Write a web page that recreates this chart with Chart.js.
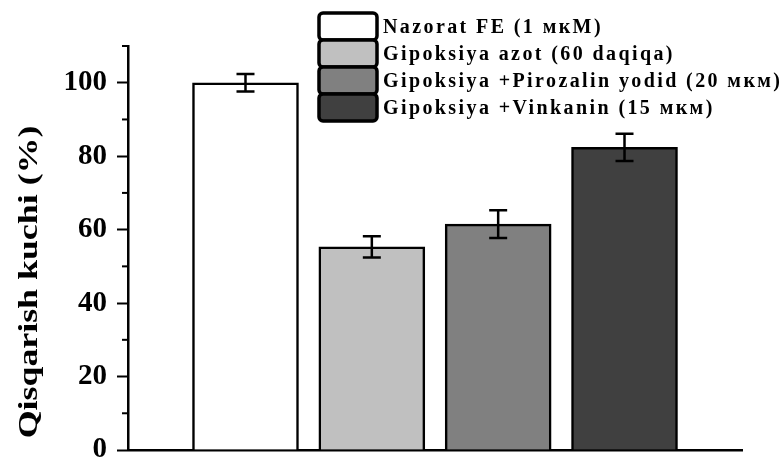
<!DOCTYPE html>
<html>
<head>
<meta charset="utf-8">
<script src="https://cdn.jsdelivr.net/npm/chart.js@4"></script>
<style>
html,body{margin:0;padding:0;background:#fff;}
canvas{display:block;}
</style>
</head>
<body>
<canvas id="c" width="781" height="460"></canvas>
<script>
const categories = ['Nazorat FE (1 мкМ)', 'Gipoksiya azot (60 daqiqa)', 'Gipoksiya +Pirozalin yodid (20 мкм)', 'Gipoksiya +Vinkanin (15 мкм)'];
const values = [100, 55.3, 61.5, 82.4];
const errors = [2.4, 2.9, 3.8, 3.7];
const yTicks = [0, 20, 40, 60, 80, 100];
const yMinorTicks = [10, 30, 50, 70, 90, 110];
const yTitle = 'Qisqarish kuchi (%)';
const colors = ['#ffffff', '#c0c0c0', '#808080', '#404040'];

const FONT = '"Liberation Serif", "DejaVu Serif", serif';

const extrasPlugin = {
  id: 'extras',
  afterDatasetsDraw(chart) {
    const ctx = chart.ctx;
    const xs = chart.scales.x, ys = chart.scales.y;
    ctx.save();
    // error bars
    ctx.strokeStyle = '#000';
    ctx.lineWidth = 2.5;
    values.forEach((v, i) => {
      const px = xs.getPixelForValue(i + 1);
      const top = ys.getPixelForValue(v + errors[i]);
      const bot = ys.getPixelForValue(v - errors[i]);
      ctx.beginPath();
      ctx.moveTo(px, top); ctx.lineTo(px, bot);
      ctx.moveTo(px - 9, top); ctx.lineTo(px + 9, top);
      ctx.moveTo(px - 9, bot); ctx.lineTo(px + 9, bot);
      ctx.stroke();
    });
    // minor ticks
    ctx.lineWidth = 2;
    const ax = chart.chartArea.left;
    yMinorTicks.forEach(t => {
      const py = ys.getPixelForValue(t);
      ctx.beginPath();
      ctx.moveTo(ax - 6, py); ctx.lineTo(ax, py);
      ctx.stroke();
    });
    // y title
    ctx.fillStyle = '#000';
    ctx.font = 'bold 28px ' + FONT;
    ctx.textAlign = 'center';
    ctx.textBaseline = 'middle';
    ctx.translate(30, 282);
    ctx.rotate(-Math.PI / 2);
    ctx.scale(1.28, 1);
    ctx.fillText(yTitle, 0, 0);
    ctx.restore();

    // legend
    ctx.save();
    const lx = 319, ly = 13, bw = 58, bh = 27;
    categories.forEach((c, i) => {
      const y = ly + i * bh;
      ctx.fillStyle = colors[i];
      ctx.strokeStyle = '#000';
      ctx.lineWidth = 3.5;
      ctx.beginPath();
      if (ctx.roundRect) ctx.roundRect(lx, y, bw, bh, 4); else ctx.rect(lx, y, bw, bh);
      ctx.fill();
      ctx.stroke();
    });
    ctx.fillStyle = '#000';
    ctx.font = 'bold 20px ' + FONT;
    ctx.textAlign = 'left';
    ctx.textBaseline = 'middle';
    try { ctx.letterSpacing = '2.4px'; } catch (e) {}
    categories.forEach((c, i) => {
      const y = ly + i * bh + bh / 2 + 1;
      ctx.fillText(c, lx + 64, y);
    });
    ctx.restore();
  }
};

new Chart(document.getElementById('c'), {
  type: 'bar',
  data: {
    datasets: [{
      data: categories.map((c, i) => ({ x: i + 1, y: values[i] })),
      backgroundColor: colors,
      borderColor: '#000',
      borderWidth: 2.5,
      barThickness: 106
    }]
  },
  options: {
    responsive: false,
    devicePixelRatio: 1,
    animation: false,
    layout: { padding: { top: 46, right: 39, bottom: 10, left: 0 } },
    plugins: { legend: { display: false }, tooltip: { enabled: false } },
    scales: {
      x: {
        type: 'linear',
        offset: false,
        min: 0.07,
        max: 4.93,
        grid: { display: false, offset: false },
        ticks: { display: false },
        border: { display: true, color: '#000', width: 2.5 },
        afterFit(s) { s.height = 0; s.paddingLeft = 0; s.paddingRight = 0; }
      },
      y: {
        min: 0,
        max: 110,
        afterBuildTicks(s) { s.ticks = yTicks.map(v => ({ value: v })); },
        afterFit(s) { s.width = 128; s.paddingTop = 0; s.paddingBottom = 0; },
        grid: { drawOnChartArea: false, drawTicks: true, tickLength: 11, tickColor: '#000', tickWidth: 2 },
        border: { display: true, color: '#000', width: 2.5 },
        ticks: {
          padding: 10,
          color: '#000',
          font: { family: FONT, size: 29, weight: 'bold' }
        }
      }
    }
  },
  plugins: [extrasPlugin]
});
</script>
</body>
</html>
